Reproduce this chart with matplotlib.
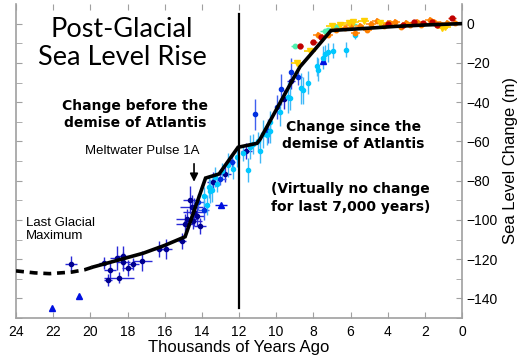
import matplotlib.pyplot as plt

# sea level data (thousands of years ago, metres)
navy_t = [21.04, 19.26, 19.05, 18.94, 18.56, 18.45, 18.24, 18.24, 18.0, 17.7, 17.2, 16.3, 15.93,
          15.07, 14.63, 14.8, 14.47, 14.26, 14.55, 14.1, 14.9, 14.4, 13.4, 12.75, 11.6, 9.6, 9.2]
navy_v = [-122.3, -121.8, -130.5, -125.4, -119.3, -129.4, -118.3, -121.3, -124.4, -122.3, -120.8,
          -114.7, -114.7, -110.7, -89.8, -99.5, -100.5, -98, -93.4, -103, -102, -96, -80.7, -76.6,
          -65, -38.6, -29.4]
navy_terr = [0.3, 0.3, 0.2, 0.3, 0.4, 0.8, 0.3, 0.4, 0.3, 0.3, 0.5, 0.3, 0.3,
             0.2, 0.4, 0.6, 0.5, 0.4, 0.6, 0.3, 0.5, 0.6, 0.3, 0.3, 0.3, 0.2, 0.2]
navy_verr = [4, 3, 3, 4, 6, 3, 5, 5, 4, 3, 5, 4, 5, 4, 7, 5, 4, 5, 6, 4, 5, 7, 5, 4, 4, 5, 4]

blue_t = [12.4, 13.0, 11.14, 9.95, 8.8, 9.74, 10.45, 9.2, 13.9, 14.2]
blue_v = [-70.5, -79.2, -46.2, -42.6, -27.4, -33.5, -54.8, -24.4, -95, -91]
blue_terr = [0.2, 0.3, 0.1, 0.1, 0.2, 0.1, 0.1, 0.1, 0.3, 0.3]
blue_verr = [4, 3, 8, 6, 4, 8, 6, 7, 5, 4]

tri_t = [22.06, 20.6, 12.97, 7.5]
tri_v = [-144.7, -139, -92.4, -18.8]
tri_terr = [0, 0, 0.3, 0.1]

cyan_t = [13.7, 13.45, 13.2, 13.56, 12.3, 11.5, 11.24, 10.87, 10.5, 10.33, 10.7, 10.33, 9.36,
          8.55, 7.8, 7.47, 7.2, 9.25, 8.65, 7.75, 6.94, 7.37, 6.24, 5.75, 13.9, 13.6, 13.3, 12.9,
          12.6, 12.1, 11.8, 11.4, 11.0, 9.8, 8.3]
cyan_v = [-92.4, -84.8, -81.7, -85.3, -74, -74.6, -61.4, -65, -57, -54.8, -56.3, -50.3, -37.6,
          -34, -21.8, -17.3, -14.7, -38, -33, -23.4, -13.7, -15.7, -13.2, -5.6, -88, -83, -78, -75,
          -72, -68, -66, -63, -60, -45, -30]
cyan_verr = [5, 6, 4, 6, 5, 6, 5, 6, 5, 6, 7, 6, 8, 7, 5, 6, 5, 6, 8, 6, 4, 5, 4, 2,
             5, 6, 5, 4, 6, 5, 4, 6, 5, 7, 6]

green_t = [8.96, 7.38, 7.2, 6.8, 5.9]
green_v = [-11.6, -4, -3, -1.5, 0]

yellow_t = [8.88, 8.18, 6.56, 5.86, 6.1, 5.3, 1.07, 7.0, 4.4, 0.9]
yellow_v = [-20.3, -14.2, -0.5, 1, 0.5, 1.5, -2, -1, 0.5, -1.5]

orange_t = [7.75, 5.75, 5.1, 4.57, 3.87, 2.4, 1.72, 6.3, 4.2, 3.3, 2.8, 1.2, 0.8, 7.2, 6.8,
            5.5, 4.9, 3.6, 2.2, 6.0, 4.0, 3.0, 1.5, 0.4]
orange_v = [-5.6, -4.7, -3, 1.5, 0.5, 1, 2, -2, -1, -1.5, -0.5, -0.2, 0.5, -6, -3.5,
            -1, 0, 0.8, -0.8, -0.5, 0.2, 0.4, 0.6, 0.2]

red_t = [8.73, 8.0, 3.17, 0.53, 1.34, 2.1, 4.0, 7.6, 2.6, 1.6]
red_v = [-11.6, -9.2, -0.5, 3, -0.5, 0.3, -0.2, -7, 0.6, 0.8]

# fitted curve
dash_t = [24, 23, 22.2, 21, 20.3, 19.85]
dash_v = [-126, -127, -127.4, -126.6, -125.4, -124]
curve_t = [19.85, 18.5, 17.16, 16, 14.9, 13.8, 13.07, 12.05, 11.03, 10.87, 9.1, 8.72, 7.9,
           7.05, 5, 3.55, 2, 0]
curve_v = [-124, -120.5, -117, -113, -108.6, -78.7, -76.6, -63, -61, -59, -28.4, -22, -13,
           -3.5, -2.3, -1.4, -0.7, 0]

fig = plt.figure(figsize=(5.26, 3.59), dpi=100)
ax = fig.add_axes([16 / 526, 41 / 359, 446 / 526, 314 / 359])

ax.errorbar(navy_t, navy_v, xerr=navy_terr, yerr=navy_verr, fmt='o', ms=3, color='#000090',
            ecolor='#2a2ad8', elinewidth=1, capsize=0, zorder=3)
ax.errorbar(blue_t, blue_v, xerr=blue_terr, yerr=blue_verr, fmt='o', ms=3, color='#0030e0',
            ecolor='#4060f0', elinewidth=1, capsize=0, zorder=3)
ax.errorbar(tri_t, tri_v, xerr=tri_terr, fmt='^', ms=4.5, color='#0010e0',
            ecolor='#0010e0', elinewidth=1, capsize=0, zorder=3)
ax.errorbar(cyan_t, cyan_v, xerr=0.1, yerr=cyan_verr, fmt='o', ms=3, color='#00c8ff',
            ecolor='#40b8f8', elinewidth=1, capsize=0, zorder=3)
ax.errorbar(green_t, green_v, xerr=0.25, yerr=1, fmt='o', ms=3.2, color='#50f0b0',
            ecolor='#50f0b0', elinewidth=1, capsize=0, zorder=3)
ax.errorbar(orange_t, orange_v, xerr=0.25, yerr=1.5, fmt='o', ms=3.2, color='#ff8000',
            ecolor='#ff9020', elinewidth=1.2, capsize=0, zorder=3)
ax.errorbar(yellow_t, yellow_v, xerr=0.3, yerr=1, fmt='v', ms=4.5, color='#ffd000',
            ecolor='#ffd000', elinewidth=1.2, capsize=0, zorder=3)
ax.errorbar(red_t, red_v, xerr=0.2, yerr=1, fmt='o', ms=3.5, color='#c00000',
            ecolor='#e03000', elinewidth=1, capsize=0, zorder=3)

ax.plot(dash_t, dash_v, color='black', lw=2.6, ls=(0, (2.2, 1.6)), zorder=4)
ax.plot(curve_t, curve_v, color='black', lw=2.6, solid_joinstyle='miter', zorder=4)
ax.plot([12, 12], [5, -145], color='black', lw=1.6, zorder=4)

ax.annotate('', xy=(14.42, -82), xytext=(14.42, -70),
            arrowprops=dict(arrowstyle='-|>', color='black', lw=1.2, mutation_scale=12))

ax.text(18.3, -10, 'Post-Glacial\nSea Level Rise', fontsize=19.5, family='Lato',
        ha='center', va='center', linespacing=1.15)
ax.text(17.6, -46.4, 'Change before the\ndemise of Atlantis', fontsize=10, fontweight='bold',
        ha='center', va='center', linespacing=1.3)
ax.text(5.85, -57, 'Change since the\ndemise of Atlantis', fontsize=10, fontweight='bold',
        ha='center', va='center', linespacing=1.3)
ax.text(6.0, -88.8, '(Virtually no change\nfor last 7,000 years)', fontsize=10,
        fontweight='bold', ha='center', va='center', linespacing=1.3)
ax.text(17.2, -65, 'Meltwater Pulse 1A', fontsize=9.5, family='Liberation Sans',
        ha='center', va='center')
ax.text(23.45, -104.8, 'Last Glacial\nMaximum', fontsize=9.5, family='Liberation Sans',
        ha='left', va='center', linespacing=1.1)

ax.set_xlim(24, 0)
ax.set_ylim(-150, 10)
ax.set_xticks(range(24, -1, -2))
ax.set_yticks(range(0, -141, -20))
ax.set_yticks(range(0, -151, -10), minor=True)

ax.tick_params(axis='x', direction='in', top=True, bottom=True, length=4, color='#a0a0a0',
               labelsize=10, pad=5)
ax.tick_params(axis='y', which='both', direction='in', left=True, right=True, labelleft=False,
               labelright=True, length=4, color='#a0a0a0', labelsize=10, pad=3)
for lab in ax.get_xticklabels() + ax.get_yticklabels():
    lab.set_family('Liberation Sans')
ax.spines['top'].set_visible(False)
for s in ['left', 'right', 'bottom']:
    ax.spines[s].set_color('#a0a0a0')
    ax.spines[s].set_linewidth(1.2)

ax.set_xlabel('Thousands of Years Ago', fontsize=12, family='Liberation Sans', labelpad=1)
ax.yaxis.set_label_position('right')
ax.set_ylabel('Sea Level Change (m)', fontsize=12, family='Liberation Sans', labelpad=4)

fig.savefig('out.png', dpi=100)
